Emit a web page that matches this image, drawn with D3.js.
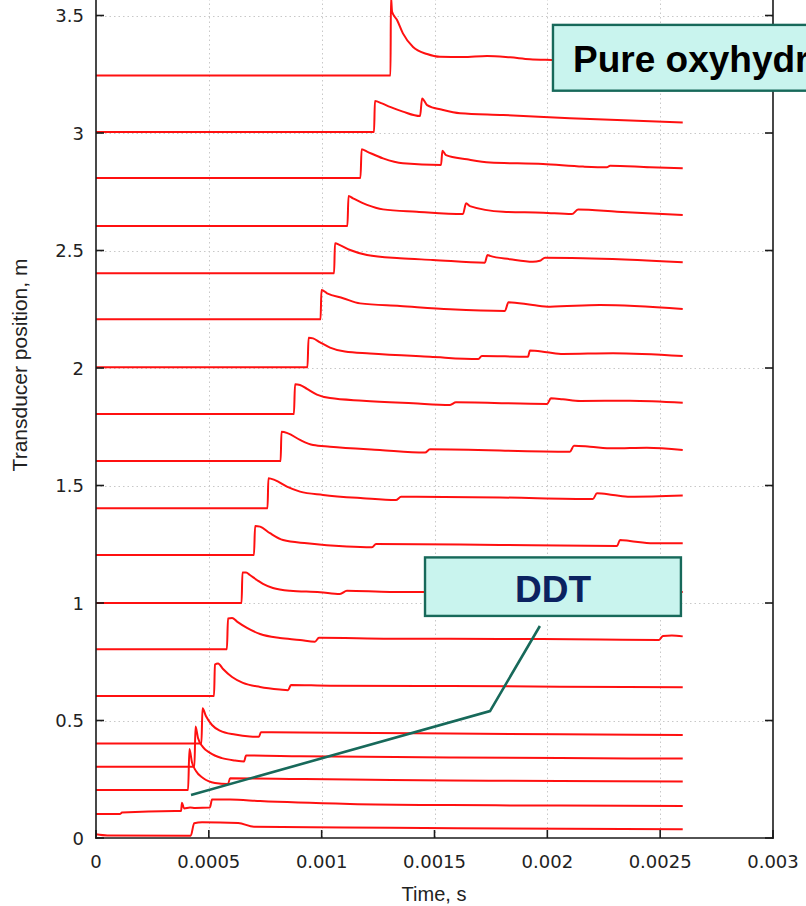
<!DOCTYPE html>
<html>
<head>
<meta charset="utf-8">
<script src="https://cdn.jsdelivr.net/npm/d3@7"></script>
<style>
  html, body { margin: 0; padding: 0; background: #ffffff; }
  svg { display: block; }
</style>
</head>
<body>
<script>
// ---------------- DATA ----------------
const xTicks = [0, 0.0005, 0.001, 0.0015, 0.002, 0.0025, 0.003];
const xTickLabels = ["0", "0.0005", "0.001", "0.0015", "0.002", "0.0025", "0.003"];
const yTicks = [0, 0.5, 1, 1.5, 2, 2.5, 3, 3.5];
const yTickLabels = ["0", "0.5", "1", "1.5", "2", "2.5", "3", "3.5"];
const xTitle = "Time, s";
const yTitle = "Transducer position, m";

// each trace: [time (s), transducer position + signal (m)]
const trace0 = [[0,0.016],[0.00005,0.011],[0.00042,0.010],[0.000435,0.063],[0.00047,0.067],[0.00063,0.064],[0.0007,0.048],[0.0011,0.045],[0.0016,0.042],[0.0026,0.037]];
const trace1 = [[0,0.102],[0.000106,0.102],[0.000115,0.108],[0.00035,0.115],[0.000377,0.115],[0.000381,0.150],[0.00039,0.126],[0.000417,0.130],[0.000439,0.128],[0.000505,0.130],[0.000514,0.164],[0.000594,0.164],[0.000727,0.157],[0.001126,0.145],[0.001569,0.140],[0.002056,0.138],[0.0026,0.136]];
const trace2 = [[0,0.204],[0.000408,0.204],[0.000414,0.379],[0.000425,0.323],[0.000443,0.285],[0.000474,0.255],[0.000527,0.234],[0.000585,0.230],[0.000594,0.254],[0.000904,0.251],[0.001126,0.249],[0.001569,0.245],[0.002056,0.243],[0.0026,0.240]];
const trace3 = [[0,0.303],[0.000436,0.303],[0.000441,0.474],[0.000452,0.426],[0.000474,0.387],[0.000505,0.362],[0.000558,0.340],[0.000616,0.330],[0.000656,0.326],[0.000665,0.351],[0.000904,0.348],[0.001569,0.343],[0.002056,0.340],[0.0026,0.338]];
const trace4 = [[0,0.402],[0.000467,0.402],[0.000472,0.552],[0.000487,0.519],[0.000514,0.481],[0.000549,0.457],[0.000616,0.440],[0.000682,0.432],[0.000722,0.431],[0.000731,0.450],[0.000904,0.449],[0.001569,0.445],[0.002056,0.441],[0.0026,0.438]];
const trace5 = [[0,0.604],[0.000523,0.604],[0.000527,0.738],[0.000541,0.743],[0.000563,0.719],[0.000603,0.685],[0.000651,0.660],[0.000727,0.643],[0.000815,0.632],[0.000851,0.629],[0.000864,0.651],[0.001037,0.648],[0.001569,0.647],[0.002056,0.644],[0.0026,0.641]];
const trace6 = [[0,0.803],[0.00058,0.803],[0.000585,0.934],[0.000603,0.936],[0.000625,0.921],[0.000669,0.894],[0.000727,0.868],[0.000815,0.851],[0.000904,0.843],[0.00097,0.835],[0.000988,0.852],[0.001303,0.848],[0.00179,0.847],[0.002233,0.845],[0.002495,0.843],[0.002512,0.860],[0.002552,0.862],[0.0026,0.858]];
const trace7 = [[0,1.0],[0.000645,1.0],[0.000649,1.130],[0.000665,1.130],[0.000682,1.119],[0.000713,1.098],[0.00074,1.081],[0.000784,1.064],[0.00086,1.052],[0.000993,1.046],[0.001081,1.038],[0.001112,1.052],[0.001303,1.047],[0.00179,1.047],[0.002233,1.047],[0.0026,1.047]];
const trace8 = [[0,1.204],[0.0007,1.204],[0.000705,1.328],[0.000727,1.325],[0.000771,1.297],[0.000829,1.268],[0.000935,1.254],[0.001112,1.240],[0.001223,1.237],[0.001241,1.251],[0.00179,1.247],[0.002309,1.243],[0.002322,1.268],[0.002366,1.264],[0.002468,1.254],[0.0026,1.254]];
const trace9 = [[0,1.403],[0.00076,1.403],[0.000764,1.531],[0.000793,1.523],[0.000846,1.495],[0.000904,1.474],[0.001006,1.460],[0.001183,1.446],[0.001329,1.438],[0.001352,1.452],[0.00179,1.449],[0.002202,1.443],[0.00222,1.467],[0.002291,1.460],[0.002366,1.452],[0.0026,1.457]];
const trace10 = [[0,1.604],[0.000818,1.604],[0.000822,1.729],[0.000851,1.722],[0.000904,1.694],[0.000962,1.672],[0.001037,1.665],[0.001258,1.651],[0.001458,1.640],[0.00148,1.654],[0.0021,1.644],[0.002118,1.669],[0.002189,1.665],[0.002291,1.658],[0.002441,1.661],[0.0026,1.651]];
const trace11 = [[0,1.804],[0.000877,1.804],[0.000882,1.931],[0.000904,1.928],[0.000935,1.911],[0.000979,1.887],[0.001037,1.872],[0.001183,1.861],[0.001405,1.850],[0.001569,1.843],[0.001595,1.854],[0.001999,1.847],[0.002016,1.871],[0.002069,1.867],[0.002145,1.860],[0.002366,1.861],[0.0026,1.852]];
const trace12 = [[0,2.003],[0.000937,2.003],[0.000942,2.129],[0.000962,2.126],[0.000993,2.109],[0.001037,2.087],[0.001103,2.070],[0.001214,2.062],[0.00148,2.048],[0.001693,2.038],[0.00171,2.051],[0.001914,2.048],[0.001923,2.074],[0.001998,2.067],[0.002069,2.060],[0.002291,2.063],[0.0026,2.051]];
const trace13 = [[0,2.207],[0.000995,2.207],[0.000999,2.332],[0.001024,2.318],[0.001095,2.297],[0.00117,2.275],[0.001347,2.264],[0.001569,2.250],[0.001812,2.243],[0.001828,2.280],[0.001936,2.268],[0.002012,2.261],[0.002233,2.268],[0.0026,2.251]];
const trace14 = [[0,2.403],[0.001055,2.403],[0.001059,2.531],[0.001081,2.523],[0.001126,2.502],[0.001201,2.481],[0.001347,2.467],[0.001493,2.460],[0.001723,2.448],[0.001735,2.481],[0.001746,2.477],[0.001835,2.463],[0.001936,2.452],[0.001967,2.456],[0.00199,2.469],[0.002158,2.467],[0.0026,2.450]];
const trace15 = [[0,2.604],[0.001114,2.604],[0.001119,2.732],[0.001139,2.722],[0.001201,2.694],[0.001272,2.675],[0.001422,2.665],[0.001626,2.655],[0.00164,2.701],[0.001657,2.689],[0.001804,2.665],[0.001981,2.661],[0.002109,2.655],[0.002136,2.674],[0.002309,2.665],[0.0026,2.651]];
const trace16 = [[0,2.809],[0.001172,2.809],[0.001177,2.931],[0.001201,2.921],[0.001272,2.892],[0.00136,2.871],[0.001529,2.864],[0.001535,2.925],[0.001551,2.906],[0.001644,2.888],[0.001746,2.874],[0.001981,2.868],[0.002158,2.857],[0.002264,2.854],[0.002278,2.861],[0.002455,2.854],[0.0026,2.850]];
const trace17 = [[0,3.004],[0.001232,3.004],[0.001236,3.136],[0.001267,3.126],[0.001303,3.111],[0.00136,3.091],[0.001436,3.072],[0.001445,3.147],[0.001467,3.119],[0.001538,3.098],[0.001613,3.084],[0.001804,3.077],[0.0021,3.063],[0.002397,3.052],[0.0026,3.045]];
const trace18 = [[0,3.245],[0.001305,3.245],[0.001307,3.58],[0.001312,3.516],[0.001334,3.481],[0.00136,3.424],[0.001405,3.366],[0.001467,3.336],[0.001524,3.324],[0.001626,3.323],[0.001733,3.328],[0.001835,3.322],[0.001923,3.314],[0.002021,3.311],[0.002233,3.306],[0.0026,3.302]];
const traces = [trace0, trace1, trace2, trace3, trace4, trace5, trace6, trace7, trace8, trace9,
                trace10, trace11, trace12, trace13, trace14, trace15, trace16, trace17, trace18];

// annotations (data coordinates)
const labelTexts = ["Pure oxyhydrogen", "DDT"];
const labelBoxes = [[0.002025, 3.460, 0.00325, 3.180], [0.001458, 1.194, 0.002592, 0.945]];
const labelAnchors = [[0.002114, 3.261], [0.002025, 1.006]];
const leaderLine = [[0.000421, 0.183], [0.001746, 0.540], [0.001967, 0.902]];

// ---------------- LAYOUT ----------------
const W = 806, H = 906;
const left = 96, right = 773, bottom = 838;
const x = d3.scaleLinear().domain([0, 0.003]).range([left, right]);
const y = d3.scaleLinear().domain([0, 3.5]).range([bottom, 15.5]);
const plotTop = -10;

const svg = d3.select("body").append("svg").attr("width", W).attr("height", H);

// grid
const grid = svg.append("g").attr("stroke", "#c8c8c8").attr("stroke-width", 1).attr("stroke-dasharray", "1.5,3");
grid.selectAll("line.gx").data(xTicks.slice(1, -1)).join("line")
  .attr("x1", d => Math.round(x(d)) + 0.5).attr("x2", d => Math.round(x(d)) + 0.5)
  .attr("y1", plotTop).attr("y2", bottom);
grid.selectAll("line.gy").data(yTicks.slice(1)).join("line")
  .attr("x1", left).attr("x2", right)
  .attr("y1", d => Math.round(y(d)) + 0.5).attr("y2", d => Math.round(y(d)) + 0.5);

// traces
const line = d3.line().x(d => x(d[0])).y(d => y(d[1])).curve(d3.curveMonotoneX);
svg.append("g").selectAll("path").data(traces).join("path")
  .attr("d", line).attr("fill", "none").attr("stroke", "#ff1010")
  .attr("stroke-width", 2).attr("stroke-linejoin", "round");

// frame & ticks
const frame = svg.append("g").attr("stroke", "#1a1a1a").attr("stroke-width", 1.6).attr("fill", "none");
frame.append("line").attr("x1", left).attr("x2", left).attr("y1", plotTop).attr("y2", bottom + 0.8);
frame.append("line").attr("x1", right).attr("x2", right).attr("y1", plotTop).attr("y2", bottom + 0.8);
frame.append("line").attr("x1", left - 0.8).attr("x2", right + 0.8).attr("y1", bottom).attr("y2", bottom);
frame.selectAll("line.tx").data(xTicks).join("line")
  .attr("x1", d => x(d)).attr("x2", d => x(d)).attr("y1", bottom).attr("y2", bottom - 8);
frame.selectAll("line.tyl").data(yTicks).join("line")
  .attr("x1", left).attr("x2", left + 8).attr("y1", d => y(d)).attr("y2", d => y(d));
frame.selectAll("line.tyr").data(yTicks).join("line")
  .attr("x1", right).attr("x2", right - 8).attr("y1", d => y(d)).attr("y2", d => y(d));

// tick labels
svg.append("g").selectAll("text").data(xTicks).join("text")
  .attr("x", d => x(d)).attr("y", 868).attr("text-anchor", "middle")
  .attr("font-family", "DejaVu Sans").attr("font-size", 18).attr("fill", "#222")
  .text((d, i) => xTickLabels[i]);
svg.append("g").selectAll("text").data(yTicks).join("text")
  .attr("x", 84).attr("y", d => y(d) + 6.5).attr("text-anchor", "end")
  .attr("font-family", "DejaVu Sans").attr("font-size", 18).attr("fill", "#222")
  .text((d, i) => yTickLabels[i]);

// axis titles
svg.append("text").attr("x", 434).attr("y", 901).attr("text-anchor", "middle")
  .attr("font-family", "Liberation Sans").attr("font-size", 20).attr("fill", "#222").text(xTitle);
svg.append("text").attr("transform", "translate(27,365) rotate(-90)").attr("text-anchor", "middle")
  .attr("font-family", "Liberation Sans").attr("font-size", 21).attr("fill", "#222").text(yTitle);

// leader line
svg.append("path")
  .attr("d", d3.line().x(d => x(d[0])).y(d => y(d[1]))(leaderLine))
  .attr("fill", "none").attr("stroke", "#17695a").attr("stroke-width", 2.6);

// annotation boxes
const ann = svg.append("g");
labelBoxes.forEach((b, i) => {
  ann.append("rect")
    .attr("x", x(b[0])).attr("y", y(b[1]))
    .attr("width", x(b[2]) - x(b[0])).attr("height", y(b[3]) - y(b[1]))
    .attr("fill", "#c9f4ee").attr("stroke", "#17695a").attr("stroke-width", 2.4);
});
ann.append("text").attr("x", x(labelAnchors[0][0])).attr("y", y(labelAnchors[0][1]))
  .attr("font-family", "Liberation Sans").attr("font-weight", "bold").attr("font-size", 37)
  .attr("fill", "#000").text(labelTexts[0]);
ann.append("text").attr("x", x(labelAnchors[1][0])).attr("y", y(labelAnchors[1][1]))
  .attr("text-anchor", "middle")
  .attr("font-family", "Liberation Sans").attr("font-weight", "bold").attr("font-size", 37)
  .attr("fill", "#0b2260").text(labelTexts[1]);
</script>
</body>
</html>
